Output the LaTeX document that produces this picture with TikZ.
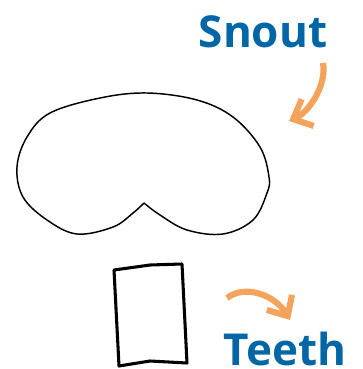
\documentclass[tikz,border=0pt]{standalone}
\usepackage{fontspec}
\setmainfont{Open Sans}
\usetikzlibrary{arrows.meta}
\definecolor{tagblue}{RGB}{0,102,166}
\definecolor{pointer}{RGB}{244,163,92}
\begin{document}
\begin{tikzpicture}[
    x=0.75pt, y=-0.75pt,
    tag/.style={
        text=tagblue,
        font=\bfseries\fontsize{33}{36}\selectfont,
        inner sep=0pt
    },
    outline/.style={draw=black, line width=1.1pt, line join=round},
    toothbox/.style={draw=black, line width=2.3pt, line join=round},
    pointerarrow/.style={draw=pointer, line width=4.6pt,
        -{Straight Barb[length=12pt, width=22pt]}}
]
\useasboundingbox (0,0) rectangle (363,369);

% labels
\node[tag, anchor=base] (snout) at (263,47) {Snout};
\node[tag, anchor=base] (teeth) at (285,365) {Teeth};

% snout shape
\draw[outline] plot[smooth, tension=0.6] coordinates {
    (144,203) (160,215) (187,230) (223,234) (253,220) (267,193)
    (269,177) (260,147) (233,117) (197,100) (147,93) (100,98)
    (50,113) (27,137) (17,167) (23,197) (47,220) (77,234)
    (113,227) (133,213) (144,203)};

% tooth
\draw[toothbox] (114,270) -- (150,265) -- (182,264) -- (187,363)
    -- (150,361) -- (119,366) -- cycle;

% pointers
\coordinate (snoutfrom) at (323,63);
\coordinate (snoutto) at (289,121);
\coordinate (teethfrom) at (227,298);
\coordinate (teethto) at (290,320);
\draw[pointerarrow] (snoutfrom) .. controls (327,85) and (309,112) .. (snoutto);
\draw[pointerarrow] (teethfrom) .. controls (245,284) and (275,295) .. (teethto);

\end{tikzpicture}
\end{document}
